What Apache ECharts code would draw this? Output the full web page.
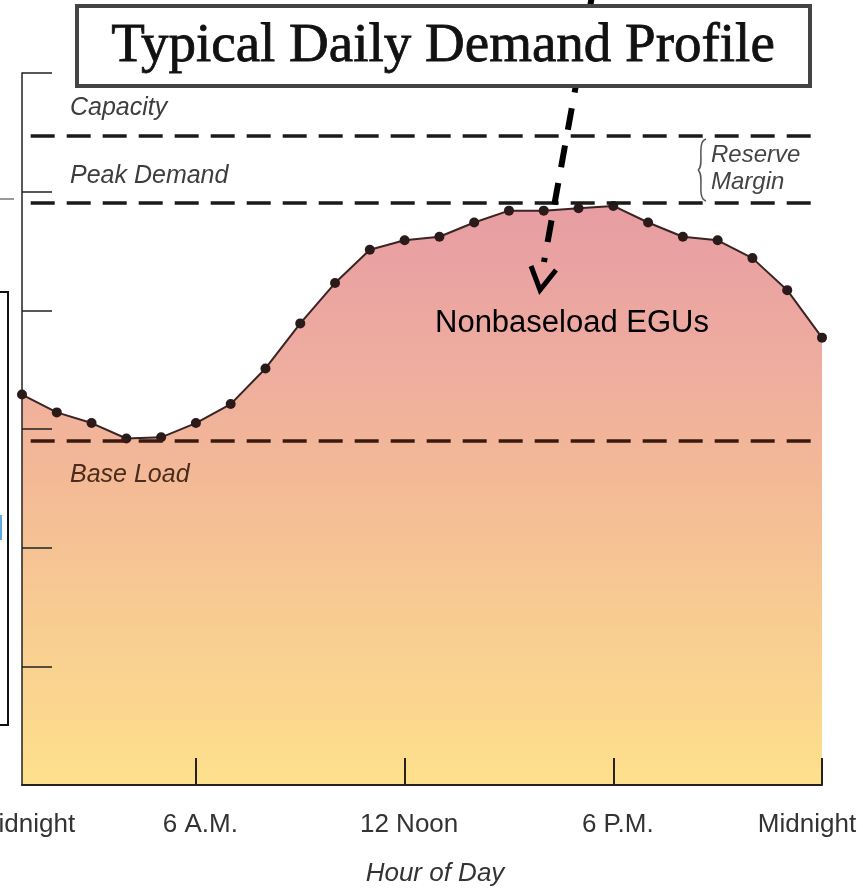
<!DOCTYPE html>
<html>
<head>
<meta charset="utf-8">
<script src="https://cdn.jsdelivr.net/npm/echarts@6/dist/echarts.min.js"></script>
<style>html,body{margin:0;padding:0;background:#fff;}#c{width:863px;height:889px;}</style>
</head>
<body>
<div id="c"></div>
<script>
// Hours of day (1..24) and demand level (arbitrary units)
const hours = [1,2,3,4,5,6,7,8,9,10,11,12,13,14,15,16,17,18,19,20,21,22,23,24];
const demand = [3.29,3.14,3.05,2.92,2.93,3.05,3.21,3.51,3.89,4.23,4.51,4.59,4.62,4.74,4.84,4.84,4.86,4.88,4.74,4.62,4.59,4.44,4.17,3.77];
// Reference levels
const capacityLevel = 5.47;
const peakLevel = 4.91;
const baseLoadLevel = 2.90;
// Axis ticks / labels
const xTickHours = [6,12,18,24];
const xLabelHours = [1,6,12,18,24];
const xLabelTexts = {1:'Midnight',6:'6 A.M.',12:'12 Noon',18:'6 P.M.',24:'Midnight'};
const yTicks = [0,1,2,3,4,5,6];

const chart = echarts.init(document.getElementById('c'), null, {renderer:'canvas'});
const lineStart = 1.25;
const mk = (v, color) => [{coord:[lineStart, v], lineStyle:{color:color}}, {coord:[24, v]}];
const labStyle = {fontSize:26, color:'#333', fontFamily:'Liberation Sans'};

chart.setOption({
  animation:false,
  backgroundColor:'#fff',
  grid:{left:22, right:41, top:73, bottom:104, containLabel:false, outerBoundsMode:'none'},
  xAxis:{
    type:'value', min:1, max:24, z:10,
    axisLine:{show:true, lineStyle:{color:'#2a2020', width:2}},
    axisTick:{show:true, inside:true, length:27, customValues:xTickHours, lineStyle:{color:'#2a2020', width:2}},
    axisLabel:{customValues:xLabelHours, margin:27, fontSize:26, color:'#333', fontFamily:'Liberation Sans',
      hideOverlap:false, showMinLabel:true, showMaxLabel:true,
      formatter:(v)=> v===24 ? '{r|'+xLabelTexts[v]+'}' : (v===1 ? '{l|'+xLabelTexts[v]+'}' : '{c|'+xLabelTexts[v]+'}'),
      rich:{
        r:Object.assign({padding:[0,30,0,0]}, labStyle),
        l:Object.assign({padding:[0,0,0,8]}, labStyle),
        c:Object.assign({padding:[0,0,0,9]}, labStyle)
      }},
    splitLine:{show:false},
    name:'Hour of Day', nameLocation:'middle', nameGap:76,
    nameTextStyle:{fontSize:26, fontStyle:'italic', color:'#333', fontFamily:'Liberation Sans', padding:[0,0,0,26]}
  },
  yAxis:{
    type:'value', min:yTicks[0], max:yTicks[yTicks.length-1], interval:1, z:10,
    axisLine:{show:true, lineStyle:{color:'#222', width:1.5}},
    axisTick:{show:true, inside:true, length:30, lineStyle:{color:'#222', width:1.5}},
    axisLabel:{show:false},
    splitLine:{show:false}
  },
  series:[{
    type:'line',
    data:hours.map((h,i)=>[h, demand[i]]),
    symbol:'circle', symbolSize:10,
    itemStyle:{color:'#2b1a1a'},
    lineStyle:{color:'#3a2424', width:2},
    areaStyle:{opacity:1, color:{type:'linear', x:0, y:0, x2:0, y2:1, colorStops:[
      {offset:0, color:'#e79da2'},
      {offset:0.25, color:'#eeaba0'},
      {offset:0.45, color:'#f3b897'},
      {offset:0.7, color:'#f8cb92'},
      {offset:1, color:'#fde08c'}]}},
    markLine:{
      silent:true, symbol:['none','none'], label:{show:false},
      lineStyle:{type:[24,12], width:3.5},
      data:[mk(capacityLevel,'#1a1a1a'), mk(peakLevel,'#1a1a1a'), mk(baseLoadLevel,'#3a1a10')]
    }
  }],
  graphic:[
    // left cropped artifacts
    {type:'polyline', z:50, shape:{points:[[0,292],[8,292],[8,725],[0,725]]}, style:{stroke:'#111', lineWidth:2, fill:null}},
    {type:'line', z:50, shape:{x1:0,y1:199,x2:14,y2:199}, style:{stroke:'#999', lineWidth:2}},
    {type:'rect', z:50, shape:{x:0,y:515,width:2,height:25}, style:{fill:'#5aaae0'}},
    // level labels
    {type:'text', z:50, style:{x:70, y:108, text:'Capacity', fontSize:25, fontStyle:'italic', fontFamily:'Liberation Sans', fill:'#3d3d3d', verticalAlign:'middle'}},
    {type:'text', z:50, style:{x:70, y:176, text:'Peak Demand', fontSize:25, fontStyle:'italic', fontFamily:'Liberation Sans', fill:'#3d3d3d', verticalAlign:'middle'}},
    {type:'text', z:50, style:{x:70, y:475, text:'Base Load', fontSize:25, fontStyle:'italic', fontFamily:'Liberation Sans', fill:'#4a2c1c', verticalAlign:'middle'}},
    {type:'text', z:50, style:{x:711, y:155, text:'Reserve', fontSize:24, fontStyle:'italic', fontFamily:'Liberation Sans', fill:'#444', verticalAlign:'middle'}},
    {type:'text', z:50, style:{x:711, y:182, text:'Margin', fontSize:24, fontStyle:'italic', fontFamily:'Liberation Sans', fill:'#444', verticalAlign:'middle'}},
    {type:'bezierCurve', z:50, shape:{x1:706,y1:139,cpx1:696,cpy1:142,cpx2:705,cpy2:166,x2:698,y2:170}, style:{stroke:'#555', lineWidth:1.5, fill:null}},
    {type:'bezierCurve', z:50, shape:{x1:698,y1:170,cpx1:705,cpy1:175,cpx2:696,cpy2:198,x2:706,y2:201}, style:{stroke:'#555', lineWidth:1.5, fill:null}},
    {type:'text', z:50, style:{x:572, y:323, text:'Nonbaseload EGUs', fontSize:31, fontFamily:'Liberation Sans', fill:'#000', align:'center', verticalAlign:'middle'}},
    // dashed arrow
    {type:'line', z:60, shape:{x1:592,y1:-4,x2:544,y2:262}, style:{stroke:'#000', lineWidth:6, lineDash:[22,16]}},
    {type:'polyline', z:60, shape:{points:[[531,266],[540,290],[556,270]]}, style:{stroke:'#000', lineWidth:5, fill:null}},
    // title box
    {type:'rect', z:70, shape:{x:77,y:6,width:733,height:80}, style:{fill:'#fff', stroke:'#444', lineWidth:4}},
    {type:'text', z:71, style:{x:443, y:47, text:'Typical Daily Demand Profile', fontSize:55, fontFamily:'Liberation Serif', fill:'#111', stroke:'#111', lineWidth:0.8, align:'center', verticalAlign:'middle'}}
  ]
});
</script>
</body>
</html>
